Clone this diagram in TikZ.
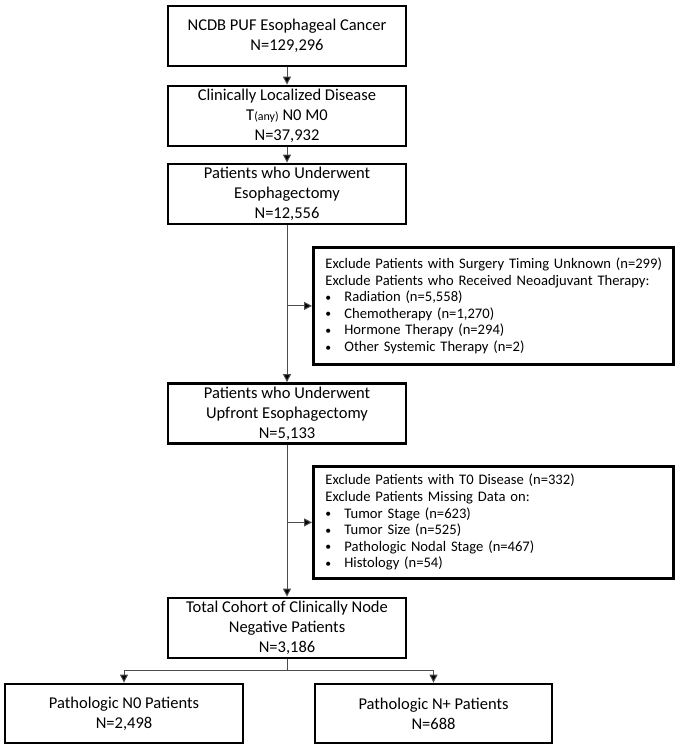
\documentclass[tikz,border=0pt]{standalone}
\usepackage{fontspec}
\setmainfont{Carlito}
\usetikzlibrary{arrows.meta}
\newcommand{\bitem}[1]{\makebox[19pt][l]{\raisebox{0.5pt}{\scalebox{0.8}{\textbullet}}}#1}
\begin{document}
\begin{tikzpicture}[x=1pt,y=-1pt,
  mainbox/.style={draw=black, line width=2.8pt, minimum width=238, minimum height=60,
    align=center, inner sep=0pt, font=\fontsize{16.5}{20}\selectfont},
  exclbox/.style={draw=black, line width=2.8pt, text width=336, inner xsep=12pt,
    minimum height=117, align=left, font=\fontsize{14.6}{16.6}\selectfont},
  conn/.style={draw=black!70, line width=1pt, -{Triangle[length=8pt,width=8pt,fill=black]}},
  plain/.style={draw=black!70, line width=1pt}]
\useasboundingbox (0,0) rectangle (679,750);
\node[mainbox] (b1) at (287,36) {NCDB PUF Esophageal Cancer\\N=129,296};
\node[mainbox] (b2) at (287,116) {Clinically Localized Disease\\T{\fontsize{12}{14}\selectfont(any)} N0 M0\\N=37,932};
\node[mainbox] (b3) at (287,194) {Patients who Underwent\\Esophagectomy\\N=12,556};
\node[exclbox, anchor=north west, minimum height=117] (e1) at (312,246)
  {\mbox{Exclude Patients with Surgery Timing Unknown (n=299)}\\
   Exclude Patients who Received Neoadjuvant Therapy:\\
   \bitem{Radiation (n=5,558)}\\
   \bitem{Chemotherapy (n=1,270)}\\
   \bitem{Hormone Therapy (n=294)}\\
   \bitem{Other Systemic Therapy (n=2)}};
\node[mainbox] (b5) at (287,413.5) {Patients who Underwent\\Upfront Esophagectomy\\N=5,133};
\node[exclbox, anchor=north west, minimum height=112] (e2) at (312,465)
  {Exclude Patients with T0 Disease (n=332)\\
   Exclude Patients Missing Data on:\\
   \bitem{Tumor Stage (n=623)}\\
   \bitem{Tumor Size (n=525)}\\
   \bitem{Pathologic Nodal Stage (n=467)}\\
   \bitem{Histology (n=54)}};
\node[mainbox] (b7) at (287,628) {Total Cohort of Clinically Node\\Negative Patients\\N=3,186};
\node[mainbox, minimum height=59] (b8) at (124,713.5) {Pathologic N0 Patients\\N=2,498};
\node[mainbox, minimum width=237, minimum height=59] (b9) at (433.5,713.5) {Pathologic N+ Patients\\N=688};
\coordinate (split) at (287,670);
\draw[conn] (b1) -- (b2);
\draw[conn] (b2) -- (b3);
\draw[conn] (b3) -- (b5);
\draw[conn] (b3.south |- e1.west) -- (e1.west);
\draw[conn] (b5) -- (b7);
\draw[conn] (b5.south |- e2.west) -- (e2.west);
\draw[plain] (b7.south) -- (split);
\draw[conn] (split) -| (b8.north);
\draw[conn] (split) -| (b9.north);
\end{tikzpicture}
\end{document}
